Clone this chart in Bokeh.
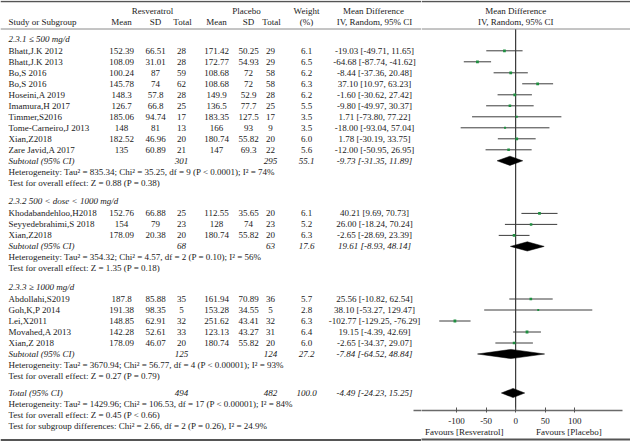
from bokeh.plotting import figure
from bokeh.layouts import row
from bokeh.models import ColumnDataSource, Range1d, Span, LinearAxis, FixedTicker
from bokeh.core.properties import value, field
from bokeh.embed import file_html
from bokeh.resources import INLINE

# ---------------- data ----------------
group_labels = ["2.3.1 \u2264 500 mg/d", "2.3.2 500 < dose < 1000 mg/d", "2.3.3 \u2265 1000 mg/d"]

studies1 = ["Bhatt,J.K 2012", "Bhatt,J.K 2013", "Bo,S 2016", "Bo,S 2016", "Hoseini,A 2019",
            "Imamura,H 2017", "Timmer,S2016", "Tome-Carneiro,J 2013", "Xian,Z2018", "Zare Javid,A 2017"]
res_mean1 = [152.39, 108.09, 100.24, 145.78, 148.3, 126.7, 185.06, 148, 182.52, 135]
res_sd1 = [66.51, 31.01, 87, 74, 57.8, 66.8, 94.74, 81, 46.96, 60.89]
res_n1 = [28, 28, 59, 62, 28, 25, 17, 13, 20, 21]
pla_mean1 = [171.42, 172.77, 108.68, 108.68, 149.9, 136.5, 183.35, 166, 180.74, 147]
pla_sd1 = [50.25, 54.93, 72, 72, 52.9, 77.7, 127.5, 93, 55.82, 69.3]
pla_n1 = [29, 29, 58, 58, 28, 25, 17, 9, 20, 22]
weight1 = [6.1, 6.5, 6.2, 6.3, 6.2, 5.5, 3.5, 3.5, 6.0, 5.6]
md1 = [-19.03, -64.68, -8.44, 37.10, -1.60, -9.80, 1.71, -18.00, 1.78, -12.00]
lo1 = [-49.71, -87.74, -37.36, 10.97, -30.62, -49.97, -73.80, -93.04, -30.19, -50.95]
hi1 = [11.65, -41.62, 20.48, 63.23, 27.42, 30.37, 77.22, 57.04, 33.75, 26.95]
sub1 = dict(n_res=301, n_pla=295, w=55.1, md=-9.73, lo=-31.35, hi=11.89)
het1 = "Heterogeneity: Tau\u00b2 = 835.34; Chi\u00b2 = 35.25, df = 9 (P < 0.0001); I\u00b2 = 74%"
test1 = "Test for overall effect: Z = 0.88 (P = 0.38)"

studies2 = ["Khodabandehloo,H2018", "Seyyedebrahimi,S 2018", "Xian,Z2018"]
res_mean2 = [152.76, 154, 178.09]
res_sd2 = [66.88, 79, 20.38]
res_n2 = [25, 23, 20]
pla_mean2 = [112.55, 128, 180.74]
pla_sd2 = [35.65, 74, 55.82]
pla_n2 = [20, 23, 20]
weight2 = [6.1, 5.2, 6.3]
md2 = [40.21, 26.00, -2.65]
lo2 = [9.69, -18.24, -28.69]
hi2 = [70.73, 70.24, 23.39]
sub2 = dict(n_res=68, n_pla=63, w=17.6, md=19.61, lo=-8.93, hi=48.14)
het2 = "Heterogeneity: Tau\u00b2 = 354.32; Chi\u00b2 = 4.57, df = 2 (P = 0.10); I\u00b2 = 56%"
test2 = "Test for overall effect: Z = 1.35 (P = 0.18)"

studies3 = ["Abdollahi,S2019", "Goh,K,P 2014", "Lei,X2011", "Movahed,A 2013", "Xian,Z 2018"]
res_mean3 = [187.8, 191.38, 148.85, 142.28, 178.09]
res_sd3 = [85.88, 98.35, 62.91, 52.61, 46.07]
res_n3 = [35, 5, 32, 33, 20]
pla_mean3 = [161.94, 153.28, 251.62, 123.13, 180.74]
pla_sd3 = [70.89, 34.55, 43.41, 43.27, 55.82]
pla_n3 = [36, 5, 32, 31, 20]
weight3 = [5.7, 2.8, 6.3, 6.4, 6.0]
md3 = [25.56, 38.10, -102.77, 19.15, -2.65]
lo3 = [-10.82, -53.27, -129.25, -4.39, -34.37]
hi3 = [62.54, 129.47, -76.29, 42.69, 29.07]
sub3 = dict(n_res=125, n_pla=124, w=27.2, md=-7.84, lo=-64.52, hi=48.84)
het3 = "Heterogeneity: Tau\u00b2 = 3670.94; Chi\u00b2 = 56.77, df = 4 (P < 0.00001); I\u00b2 = 93%"
test3 = "Test for overall effect: Z = 0.27 (P = 0.79)"

total = dict(n_res=494, n_pla=482, w=100.0, md=-4.49, lo=-24.23, hi=15.25)
het_total = "Heterogeneity: Tau\u00b2 = 1429.96; Chi\u00b2 = 106.53, df = 17 (P < 0.00001); I\u00b2 = 84%"
test_total = "Test for overall effect: Z = 0.45 (P < 0.66)"
test_sub = "Test for subgroup differences: Chi\u00b2 = 2.66, df = 2 (P = 0.26), I\u00b2 = 24.9%"

tick_values = [-100, -50, 0, 50, 100]
tick_labels = ["-100", "-50", "0", "50", "100"]
favours_labels = ["Favours [Resveratrol]", "Favours [Placebo]"]

# ---------------- layout (page pixel coordinates, 1:1) ----------------
FONT = "Liberation Serif"
FS = "9px"
W, H = 630, 444
SPLIT = 421.0            # x where table panel ends and forest panel starts
X0_PX, PX_PER_UNIT = 515.2, 0.5915
AXIS_Y = 410
AXIS_END_PX = 622.0
FAV_POS = [-87, 90]      # label centres, in mean-difference units

col = dict(rm=121, rsd=155, rn=181, pm=216, psd=248, pn=270, w=306, md=374)

groups = [
    dict(label=group_labels[0], studies=studies1, rm=res_mean1, rsd=res_sd1, rn=res_n1,
         pm=pla_mean1, psd=pla_sd1, pn=pla_n1, w=weight1, md=md1, lo=lo1, hi=hi1,
         sub=sub1, het=het1, test=test1),
    dict(label=group_labels[1], studies=studies2, rm=res_mean2, rsd=res_sd2, rn=res_n2,
         pm=pla_mean2, psd=pla_sd2, pn=pla_n2, w=weight2, md=md2, lo=lo2, hi=hi2,
         sub=sub2, het=het2, test=test2),
    dict(label=group_labels[2], studies=studies3, rm=res_mean3, rsd=res_sd3, rn=res_n3,
         pm=pla_mean3, psd=pla_sd3, pn=pla_n3, w=weight3, md=md3, lo=lo3, hi=hi3,
         sub=sub3, het=het3, test=test3),
]

def g(v):
    return f"{v:g}"

def ci(m, l, h):
    return f"{m:.2f} [{l:.2f}, {h:.2f}]"

texts = []   # x, y, text, align, style

def add(x, y, t, align="center", style="normal"):
    texts.append((x, y, t, align, style))

# headers
add(152, 10, "Resveratrol")
add(246, 10, "Placebo")
add(306, 10, "Weight")
add(373, 10, "Mean Difference")
add(8, 21.5, "Study or Subgroup", "left")
for k, t in zip(["rm", "rsd", "rn", "pm", "psd", "pn", "w", "md"],
                ["Mean", "SD", "Total", "Mean", "SD", "Total", "(%)", "IV, Random, 95% CI"]):
    add(col[k] + (1 if k in ("rn", "pn") else 0), 21.5, t)

# forest marks
ci_x0, ci_x1, ci_y, sq_x, sq_y, sq_size = [], [], [], [], [], []
dia_xs, dia_ys = [], []
DH = 4.6

y = 38.0
for gi, grp in enumerate(groups):
    add(8, y, grp["label"], "left", "italic")
    y += 12.3
    for i, name in enumerate(grp["studies"]):
        add(8, y, name, "left")
        add(col["rm"], y, g(grp["rm"][i]))
        add(col["rsd"], y, g(grp["rsd"][i]))
        add(col["rn"], y, g(grp["rn"][i]))
        add(col["pm"], y, g(grp["pm"][i]))
        add(col["psd"], y, g(grp["psd"][i]))
        add(col["pn"], y, g(grp["pn"][i]))
        add(col["w"], y, f"{grp['w'][i]:.1f}")
        add(col["md"], y, ci(grp["md"][i], grp["lo"][i], grp["hi"][i]))
        ci_x0.append(grp["lo"][i]); ci_x1.append(grp["hi"][i]); ci_y.append(y)
        sq_x.append(grp["md"][i]); sq_y.append(y); sq_size.append(1.2 + 0.25 * grp["w"][i])
        y += 11.0
    s = grp["sub"]
    add(8, y, "Subtotal (95% CI)", "left", "italic")
    add(col["rn"], y, g(s["n_res"]), "center", "italic")
    add(col["pn"], y, g(s["n_pla"]), "center", "italic")
    add(col["w"], y, f"{s['w']:.1f}", "center", "italic")
    add(col["md"], y, ci(s["md"], s["lo"], s["hi"]), "center", "italic")
    dia_xs.append([s["lo"], s["md"], s["hi"], s["md"]])
    dia_ys.append([y, y - DH, y, y + DH])
    y += 11.0
    add(8, y, grp["het"], "left")
    y += 11.0
    add(8, y, grp["test"], "left")
    if gi < len(groups) - 1:
        y += 18.3

y += 17.0
add(8, y, "Total (95% CI)", "left", "italic")
add(col["rn"], y, g(total["n_res"]), "center", "italic")
add(col["pn"], y, g(total["n_pla"]), "center", "italic")
add(col["w"], y, f"{total['w']:.1f}", "center", "italic")
add(col["md"], y, ci(total["md"], total["lo"], total["hi"]), "center", "italic")
dia_xs.append([total["lo"], total["md"], total["hi"], total["md"]])
dia_ys.append([y, y - DH, y, y + DH])
y += 11.0
add(8, y, het_total, "left")
y += 11.0
add(8, y, test_total, "left")
y += 11.0
add(8, y, test_sub, "left")

tsrc = ColumnDataSource(dict(
    x=[t[0] for t in texts], y=[t[1] for t in texts], text=[t[2] for t in texts],
    align=[t[3] for t in texts], style=[t[4] for t in texts]))

TEXT_COLOR = "#1a1a1a"
RULES = [(1.0, "#555555", 1.6), (28.5, "#8a8a8a", 1.0)]
BOTTOM_Y = 439.5

# ---------------- left (table) figure ----------------
left = figure(frame_width=int(SPLIT), frame_height=H,
              x_range=Range1d(0, SPLIT), y_range=Range1d(H, 0),
              output_backend="svg", toolbar_location=None, min_border=0,
              x_axis_location=None, y_axis_location=None)
left.outline_line_color = None
left.xgrid.visible = False
left.ygrid.visible = False
left.text(x="x", y="y", text="text", source=tsrc, text_align=field("align"),
          text_font_style=field("style"), text_baseline="middle",
          text_font=value(FONT), text_font_size=value(FS), text_color=TEXT_COLOR)
for loc, c, w in RULES + [(BOTTOM_Y, "#555555", 2.0)]:
    left.add_layout(Span(location=loc, dimension="width", line_color=c, line_width=w))
# continuation of the forest axis line into the table panel margin
left.segment(x0=[413], y0=[AXIS_Y], x1=[SPLIT], y1=[AXIS_Y], line_color="#6a6a6a", line_width=1.5)

# ---------------- right (forest) figure ----------------
x_start = (SPLIT - X0_PX) / PX_PER_UNIT
x_end = (W - X0_PX) / PX_PER_UNIT
right = figure(frame_width=int(W - SPLIT), frame_height=AXIS_Y,
               x_range=Range1d(x_start, x_end), y_range=Range1d(AXIS_Y, 0),
               output_backend="svg", toolbar_location=None, min_border=0,
               min_border_bottom=H - AXIS_Y,
               x_axis_location=None, y_axis_location=None)
right.outline_line_color = None
right.xgrid.visible = False
right.ygrid.visible = False

ax = LinearAxis(ticker=FixedTicker(ticks=tick_values),
                major_label_overrides={v: l for v, l in zip(tick_values, tick_labels)},
                bounds=(x_start, (AXIS_END_PX - X0_PX) / PX_PER_UNIT))
ax.axis_line_color = "#6a6a6a"
ax.axis_line_width = 1.5
ax.major_tick_line_color = "#555555"
ax.major_tick_in = 3
ax.major_tick_out = 2
ax.minor_tick_line_color = None
ax.major_label_standoff = 5
ax.major_label_text_font = FONT
ax.major_label_text_font_size = FS
ax.major_label_text_color = TEXT_COLOR
right.add_layout(ax, "below")

fav = LinearAxis(ticker=FixedTicker(ticks=FAV_POS),
                 major_label_overrides={v: l for v, l in zip(FAV_POS, favours_labels)})
fav.axis_line_color = None
fav.major_tick_line_color = None
fav.minor_tick_line_color = None
fav.major_tick_in = 0
fav.major_tick_out = 0
fav.major_label_standoff = 0
fav.major_label_text_font = FONT
fav.major_label_text_font_size = FS
fav.major_label_text_color = TEXT_COLOR
right.add_layout(fav, "below")

rule = LinearAxis(ticker=FixedTicker(ticks=[]))
rule.axis_line_color = "#555555"
rule.axis_line_width = 2
rule.major_tick_line_color = None
rule.minor_tick_line_color = None
rule.major_tick_in = 0
rule.major_tick_out = 0
rule.major_label_standoff = 0
right.add_layout(rule, "below")

right.text(x=[0, 0], y=[10, 21.5], text=["Mean Difference", "IV, Random, 95% CI"],
           text_align="center", text_baseline="middle", text_font=value(FONT),
           text_font_size=value(FS), text_color=TEXT_COLOR)
for loc, c, w in RULES:
    right.add_layout(Span(location=loc, dimension="width", line_color=c, line_width=w))

right.segment(x0=[0], y0=[28.5], x1=[0], y1=[AXIS_Y], line_color="#111111", line_width=1)
right.segment(x0=ci_x0, y0=ci_y, x1=ci_x1, y1=ci_y, line_color="#3c3c3c", line_width=1)
right.scatter(x=sq_x, y=sq_y, size=sq_size, marker="square", fill_color="#1f8f40", line_color=None)
right.patches(xs=dia_xs, ys=dia_ys, fill_color="#000000", line_color="#000000", line_width=0.5)

layout = row(left, right)
open("out.html", "w").write(file_html(layout, INLINE))
